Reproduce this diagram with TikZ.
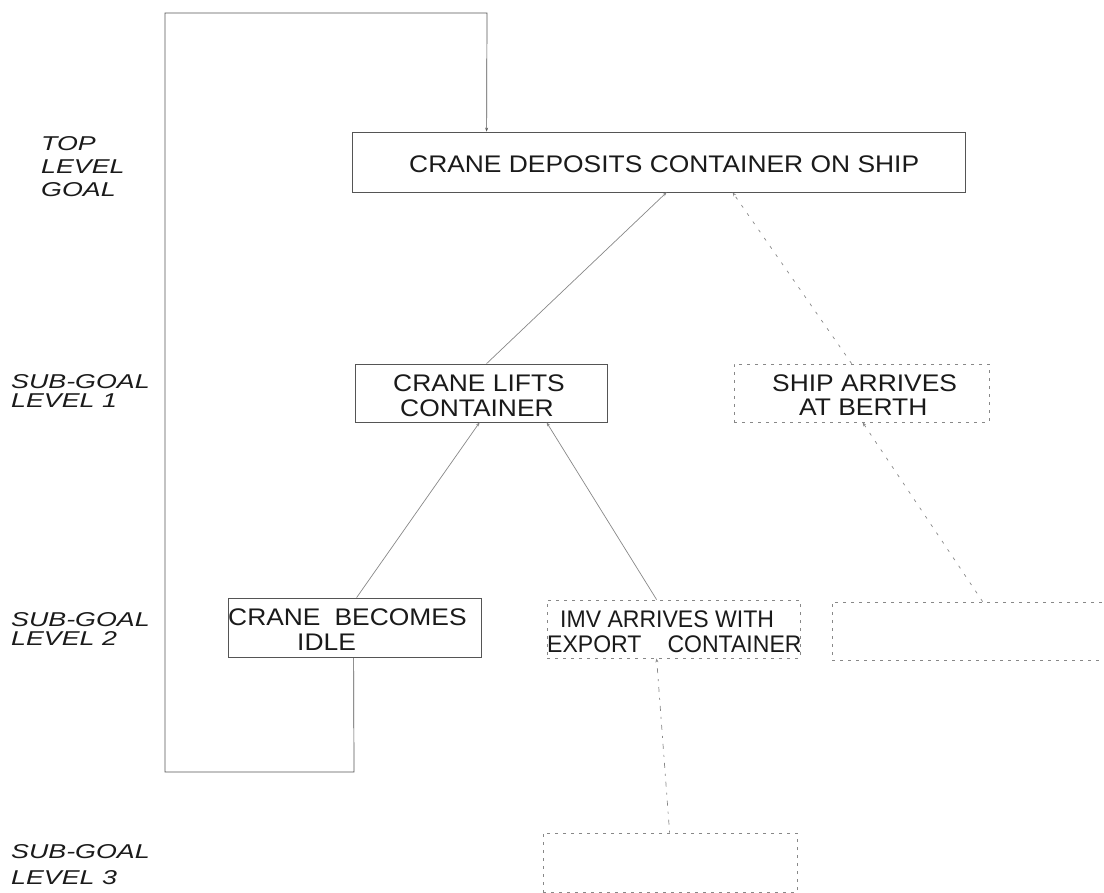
\documentclass[tikz,border=0pt]{standalone}
\usepackage{fontspec}
\setmainfont{Liberation Sans}[FakeStretch=1.1]
\newfontfamily\narrowfont{Liberation Sans}[FakeStretch=0.96]
\newfontfamily\lblfont{Liberation Sans}[FakeStretch=1.34]
\usetikzlibrary{arrows.meta}
\definecolor{boxc}{HTML}{555555}
\definecolor{linec}{HTML}{888888}
\definecolor{txtc}{HTML}{1A1A1A}
\tikzset{
  box/.style={draw=boxc, line width=0.8pt, rectangle, inner sep=0pt},
  dbox/.style={box, draw=linec, dash pattern=on 3pt off 5pt},
  txt/.style={anchor=base west, inner sep=0pt, text=txtc, font=\fontsize{24}{25}\selectfont},
  ntxt/.style={txt, font=\narrowfont\fontsize{24}{25}\selectfont},
  lbl/.style={anchor=base west, inner sep=0pt, text=txtc, font=\lblfont\itshape\fontsize{20}{20}\selectfont},
  conn/.style={draw=linec, line width=0.7pt},
  dconn/.style={conn, dash pattern=on 3pt off 7pt},
  ddconn/.style={conn, dash pattern=on 2pt off 6pt on 5pt off 6pt},
  tip/.style={-{Stealth[length=4pt,width=3pt]}}
}
\begin{document}
\begin{tikzpicture}[x=1pt,y=-1pt]
\path[use as bounding box, clip] (0,0) rectangle (1104,893);
\fill[white] (0,0) rectangle (1104,893);

% level labels
\node[lbl] (l0a) at (41,151) {TOP};
\node[lbl] (l0b) at (41,174) {LEVEL};
\node[lbl] (l0c) at (41,197) {GOAL};
\node[lbl] (l1a) at (11,389) {SUB-GOAL};
\node[lbl] (l1b) at (11,408) {LEVEL 1};
\node[lbl] (l2a) at (11,626) {SUB-GOAL};
\node[lbl] (l2b) at (11,645) {LEVEL 2};
\node[lbl] (l3a) at (11,858) {SUB-GOAL};
\node[lbl] (l3b) at (11,884) {LEVEL 3};

% boxes
\node[box, minimum width=613pt, minimum height=60pt] (top) at (658.5,162) {};
\node[box, minimum width=252pt, minimum height=58pt] (lifts) at (481,393) {};
\node[dbox, minimum width=255pt, minimum height=58pt] (ship) at (861.5,393) {};
\node[box, minimum width=253pt, minimum height=59pt] (idle) at (354.5,627.5) {};
\node[dbox, minimum width=253pt, minimum height=58pt] (imv) at (673.5,629) {};
\node[dbox, minimum width=290pt, minimum height=58pt] (er) at (977,631) {};
\node[dbox, minimum width=254pt, minimum height=59pt] (l3) at (670,862.5) {};

% box texts
\node[txt] (t0) at (409,173) {CRANE DEPOSITS CONTAINER ON SHIP};
\node[txt] (t1a) at (393,392) {CRANE LIFTS};
\node[txt] (t1b) at (400,417) {CONTAINER};
\node[txt] (t2a) at (772,392) {SHIP ARRIVES};
\node[txt] (t2b) at (799,416) {AT BERTH};
\node[txt] (t3a) at (228,625) {CRANE\hspace{14pt}BECOMES};
\node[txt] (t3b) at (297,650) {IDLE};
\node[ntxt] (t4a) at (560,627) {IMV ARRIVES WITH};
\node[ntxt] (t4b) at (547,652) {EXPORT\hspace{26pt}CONTAINER};

% connectors (child -> parent)
\draw[conn, tip] ([xshift=132pt]lifts.north west) -- ([xshift=315pt]top.south west);
\draw[dconn, tip] ([xshift=118pt]ship.north west) -- ([xshift=381pt]top.south west);
\draw[conn, tip] ([xshift=129pt]idle.north west) -- ([xshift=125pt]lifts.south west);
\draw[conn, tip] ([xshift=110pt]imv.north west) -- ([xshift=192pt]lifts.south west);
\draw[dconn, tip] ([xshift=151pt]er.north west) -- ([xshift=129pt]ship.south west);
\draw[ddconn, tip] ([xshift=127pt]l3.north west) -- ([xshift=110pt]imv.south west);

% feedback loop
\coordinate (fb1) at (354,772);
\coordinate (fb2) at (165,772);
\coordinate (fb3) at (165,13);
\coordinate (fb4) at (487,13);
\draw[conn, draw=boxc, tip] ([xshift=126pt]idle.south west) -- (fb1) -- (fb2) -- (fb3) -- (fb4) -- ([xshift=135pt]top.north west);
\end{tikzpicture}
\end{document}
